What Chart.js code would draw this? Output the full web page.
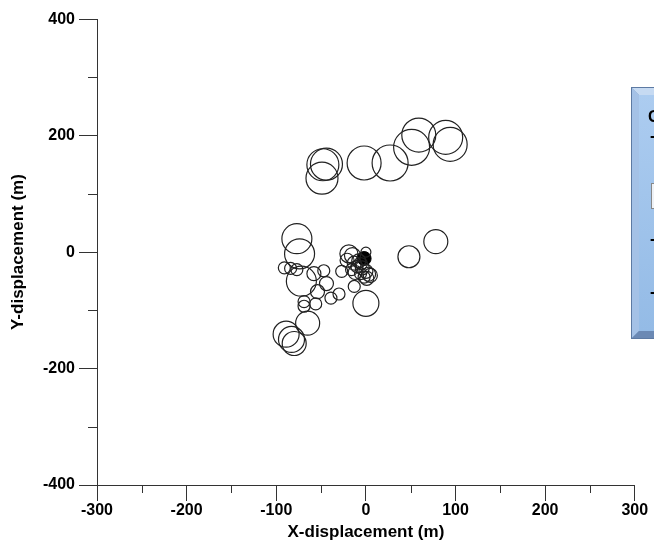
<!DOCTYPE html>
<html lang="en">
<head>
    <meta charset="UTF-8">
    <title>Displacement bubbles</title>
    <style>
        body { margin: 0; background: #fff; }
        #wrap { width: 654px; height: 547px; }
    </style>
</head>
<body>
    <div id="wrap">
        <canvas id="dispChart" width="654" height="547"></canvas>
    </div>

    <script src="https://cdn.jsdelivr.net/npm/chart.js"></script>
    <script>
        // Displacement of each event (m) and drawn circle radius (px)
        const xDisp = [-48, -44, -49, -2, 27, 51, 59, 89, 94,
            -77, -74, -91, -84, -77, -72, -58, -47, -44, -54, -39, -30, -69, -69, -56, -65, -89, -83, -80,
            -19, -15, -21, -13, -8, -4, 0, 3, 1, -2, -6, -12, -16, -27, -13, 0, 5, -10, -5, 0,
            48, 78];
        const yDisp = [150, 151, 127, 153, 153, 180, 201, 197, 185,
            23, -3, -27, -28, -30, -50, -37, -32, -54, -68, -79, -72, -85, -93, -89, -122, -141, -150, -157,
            -3, -6, -14, -19, -15, -27, -33, -38, -45, -43, -37, -35, -30, -33, -59, -88, -40, -25, -20, 0,
            -8, 18];
        const radii = [16, 16, 16, 17, 18, 18, 17, 17, 17,
            15, 15, 6, 6, 6, 15, 7, 6, 7, 7, 6, 6, 6, 6, 6, 12, 13, 13, 12,
            9, 8, 7, 7, 7, 7, 7, 7, 7, 6, 6, 7, 6, 6, 6, 13, 7, 6, 6, 5,
            11, 12];

        // Reference point (filled)
        const refX = [-2];
        const refY = [-11];
        const refR = [7];

        const xTicks = [-300, -200, -100, 0, 100, 200, 300];
        const yTicks = [-400, -200, 0, 200, 400];

        const toPoints = (xs, ys, rs) => xs.map((x, i) => ({ x: x, y: ys[i], r: rs[i] }));

        // Short minor tick marks between the labelled ones
        const minorTicks = {
            id: 'minorTicks',
            afterDraw(chart) {
                const ctx = chart.ctx;
                const xs = chart.scales.x, ys = chart.scales.y;
                ctx.save();
                ctx.strokeStyle = '#333';
                ctx.lineWidth = 1;
                ctx.beginPath();
                for (let v = -250; v <= 250; v += 100) {
                    const px = Math.round(xs.getPixelForValue(v)) + 0.5;
                    ctx.moveTo(px, xs.top);
                    ctx.lineTo(px, xs.top + 8);
                }
                for (let v = -300; v <= 300; v += 200) {
                    const py = Math.round(ys.getPixelForValue(v)) + 0.5;
                    ctx.moveTo(ys.right, py);
                    ctx.lineTo(ys.right - 9, py);
                }
                ctx.stroke();
                ctx.restore();
            }
        };

        // Bevelled key panel on the right edge
        const keyPanel = {
            id: 'keyPanel',
            afterDraw(chart) {
                const ctx = chart.ctx;
                const x = 631, y = 87, w = 60, h = 252, b = 8;
                ctx.save();
                ctx.fillStyle = '#7f9cc4';
                ctx.fillRect(x, y, w, h);
                // top bevel
                ctx.fillStyle = '#c6daf2';
                ctx.beginPath();
                ctx.moveTo(x, y); ctx.lineTo(x + w, y); ctx.lineTo(x + w - b, y + b); ctx.lineTo(x + b, y + b);
                ctx.closePath(); ctx.fill();
                // left bevel
                ctx.fillStyle = '#a4c1e6';
                ctx.beginPath();
                ctx.moveTo(x, y); ctx.lineTo(x + b, y + b); ctx.lineTo(x + b, y + h - b); ctx.lineTo(x, y + h);
                ctx.closePath(); ctx.fill();
                // bottom bevel
                ctx.fillStyle = '#6b89b4';
                ctx.beginPath();
                ctx.moveTo(x, y + h); ctx.lineTo(x + b, y + h - b); ctx.lineTo(x + w - b, y + h - b); ctx.lineTo(x + w, y + h);
                ctx.closePath(); ctx.fill();
                // face
                const g = ctx.createLinearGradient(0, y + b, 0, y + h - b);
                g.addColorStop(0, '#acccf0');
                g.addColorStop(1, '#94bbe6');
                ctx.fillStyle = g;
                ctx.fillRect(x + b, y + b, w - 2 * b, h - 2 * b);
                ctx.strokeStyle = '#5d7aa3';
                ctx.strokeRect(x + 0.5, y + 0.5, w - 1, h - 1);
                // key entries
                ctx.fillStyle = '#000';
                ctx.font = 'bold 16px "Liberation Sans", Arial, sans-serif';
                ctx.textBaseline = 'middle';
                ctx.fillText('Circle size', 648, 118);
                ctx.fillText('- radius', 650, 137);
                ctx.fillStyle = '#eef2f7';
                ctx.fillRect(651, 183, 10, 25);
                ctx.strokeStyle = '#888';
                ctx.strokeRect(651.5, 183.5, 10, 25);
                ctx.fillStyle = '#000';
                ctx.fillText('- 50 m', 650, 240);
                ctx.fillText('- 100 m', 650, 293);
                ctx.restore();
            }
        };

        const tickFont = { family: '"Liberation Sans", Arial, sans-serif', size: 16, weight: 'bold' };
        const titleFont = { family: '"Liberation Sans", Arial, sans-serif', size: 17, weight: 'bold' };

        new Chart(document.getElementById('dispChart'), {
            type: 'bubble',
            data: {
                datasets: [{
                    label: 'Events',
                    data: toPoints(xDisp, yDisp, radii),
                    backgroundColor: 'rgba(0,0,0,0)',
                    borderColor: '#222',
                    borderWidth: 1.2
                }, {
                    label: 'Reference',
                    data: toPoints(refX, refY, refR),
                    backgroundColor: '#000',
                    borderColor: '#000',
                    borderWidth: 1
                }]
            },
            options: {
                responsive: false,
                animation: false,
                events: [],
                layout: { padding: { top: 16, right: 17, left: 0, bottom: 0 } },
                plugins: {
                    legend: { display: false },
                    tooltip: { enabled: false }
                },
                scales: {
                    x: {
                        type: 'linear',
                        min: -300,
                        max: 300,
                        afterFit: s => { s.height = 62; },
                        afterBuildTicks: s => { s.ticks = xTicks.map(v => ({ value: v })); },
                        ticks: { color: '#000', font: tickFont, padding: 0, maxRotation: 0, autoSkip: false },
                        grid: { drawOnChartArea: false, tickLength: 16, tickColor: '#333' },
                        border: { color: '#333' },
                        title: { display: true, text: 'X-displacement (m)', color: '#000', font: titleFont, padding: { top: 12 } }
                    },
                    y: {
                        type: 'linear',
                        min: -400,
                        max: 400,
                        afterFit: s => { s.width = 97; },
                        afterBuildTicks: s => { s.ticks = yTicks.map(v => ({ value: v })); },
                        ticks: { color: '#000', font: tickFont, padding: 4, autoSkip: false },
                        grid: { drawOnChartArea: false, tickLength: 18, tickColor: '#333' },
                        border: { color: '#333' },
                        title: { display: true, text: 'Y-displacement (m)', color: '#000', font: titleFont, padding: { top: 8 } }
                    }
                }
            },
            plugins: [minorTicks, keyPanel]
        });
    </script>
</body>
</html>
